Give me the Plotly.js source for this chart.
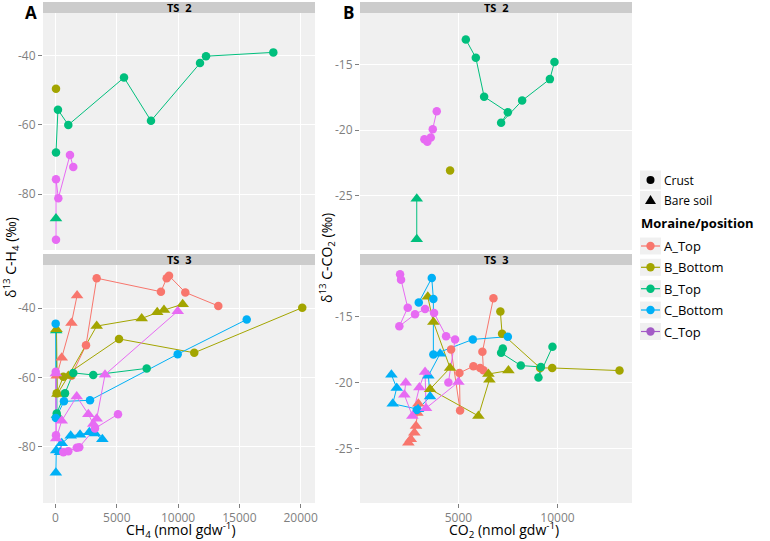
<!DOCTYPE html>
<html><head><meta charset="utf-8">
<script src="https://cdn.plot.ly/plotly-3.0.1.min.js"></script>
<style>html,body{margin:0;padding:0;background:#fff}#chart{width:770px;height:541px}</style>
</head><body><div id="chart"></div>
<script>
// ---------------- DATA ----------------
const groups = ['A_Top','B_Bottom','B_Top','C_Bottom','C_Top'];
const groupColors = ['#F8766D','#A3A500','#00BF7D','#00B0F6','#E76BF3'];
const legendKeyColors = ['#F8766D','#A3A500','#00BF7D','#00B0F6','#A35BC6'];
const soilTypes = ['Crust','Bare soil'];
const facets = ['TS 2','TS 3'];

// Panel A (CH4 vs d13C-CH4), TS 2
const aTS2_BBottom_crust_x = [40];
const aTS2_BBottom_crust_y = [-49.5];
const aTS2_BTop_crust_x = [40, 200, 1045, 5590, 7790, 11790, 12280, 17770];
const aTS2_BTop_crust_y = [-68.0, -55.6, -60.0, -46.3, -58.8, -42.1, -40.1, -39.0];
const aTS2_BTop_bare_x = [40];
const aTS2_BTop_bare_y = [-87.1];
const aTS2_CTop_crust_x = [40, 40, 230, 1180, 1450];
const aTS2_CTop_crust_y = [-93.2, -75.7, -81.2, -68.7, -72.2];

// Panel A, TS 3
const aTS3_ATop_crust_x = [1300, 2490, 3360, 8600, 9070, 9260, 10590, 13280];
const aTS3_ATop_crust_y = [-59.5, -50.7, -31.4, -35.3, -31.4, -30.7, -35.5, -39.4];
const aTS3_ATop_bare_x = [100, 506, 1300, 1760];
const aTS3_ATop_bare_y = [-59.5, -54.3, -44.3, -36.4];
const aTS3_BBottom_crust_x = [100, 640, 5180, 11320, 20130];
const aTS3_BBottom_crust_y = [-64.6, -59.8, -48.9, -52.9, -39.9];
const aTS3_BBottom_bare_x = [80, 150, 1045, 3360, 7030, 8300, 8850, 10375];
const aTS3_BBottom_bare_y = [-46.1, -64.8, -59.6, -45.2, -43.0, -41.2, -40.6, -38.9];
const aTS3_BTop_crust_x = [100, 775, 1450, 3080, 7440];
const aTS3_BTop_crust_y = [-70.4, -64.6, -58.7, -59.3, -57.4];
const aTS3_BTop_bare_x = [60, 120];
const aTS3_BTop_bare_y = [-46.5, -70.8];
const aTS3_CBottom_crust_x = [15, 30, 690, 2815, 9970, 15600];
const aTS3_CBottom_crust_y = [-44.5, -71.7, -66.9, -66.6, -53.3, -43.3];
const aTS3_CBottom_bare_x = [30, 60, 370, 506, 1240, 2000, 2760, 3220, 3820];
const aTS3_CBottom_bare_y = [-87.5, -81.1, -81.6, -79.0, -76.8, -76.5, -75.8, -76.2, -77.8];
const aTS3_CTop_crust_x = [20, 40, 640, 1045, 1730, 1940, 3220, 5100];
const aTS3_CTop_crust_y = [-58.4, -76.7, -81.6, -81.3, -80.3, -80.1, -74.7, -70.6];
const aTS3_CTop_bare_x = [30, 60, 506, 1730, 2680, 3080, 3360, 4040, 9970];
const aTS3_CTop_bare_y = [-58.9, -77.6, -72.5, -65.5, -70.6, -73.4, -71.9, -59.2, -40.9];

// Panel B (CO2 vs d13C-CO2), TS 2
const bTS2_BBottom_crust_x = [4581];
const bTS2_BBottom_crust_y = [-23.07];
const bTS2_BTop_crust_x = [5374, 5879, 6298, 7495, 7156, 8217, 9616, 9848];
const bTS2_BTop_crust_y = [-13.07, -14.47, -17.44, -18.63, -19.44, -17.74, -16.1, -14.8];
const bTS2_BTop_bare_x = [2899, 2899];
const bTS2_BTop_bare_y = [-25.23, -28.32];
const bTS2_CTop_crust_x = [3283, 3434, 3606, 3707, 3909];
const bTS2_CTop_crust_y = [-20.7, -20.89, -20.56, -19.92, -18.55];

// Panel B, TS 3
const bTS3_ATop_crust_x = [4631, 5085, 5051, 5757, 6096, 6263, 6212, 6768];
const bTS3_ATop_crust_y = [-17.47, -22.12, -19.26, -18.75, -18.88, -19.05, -17.65, -13.57];
const bTS3_ATop_bare_x = [2475, 2600, 2778, 2863, 2930, 2980];
const bTS3_ATop_bare_y = [-24.57, -24.3, -23.8, -23.3, -22.3, -21.6];
const bTS3_BBottom_crust_x = [7118, 7204, 9126, 9732, 13130];
const bTS3_BBottom_crust_y = [-14.59, -16.27, -18.88, -18.88, -19.08];
const bTS3_BBottom_bare_x = [3455, 3737, 4581, 3570, 6010, 6565, 6515, 7525];
const bTS3_BBottom_bare_y = [-13.47, -15.38, -18.88, -20.49, -22.53, -19.77, -19.34, -19.08];
const bTS3_BTop_crust_x = [7241, 7156, 8150, 9162, 9040, 9747];
const bTS3_BTop_crust_y = [-17.4, -17.73, -18.7, -18.8, -19.6, -17.27];
const bTS3_CBottom_crust_x = [3000, 3657, 3737, 3737, 5727, 7495];
const bTS3_CBottom_crust_y = [-13.9, -12.04, -13.64, -17.86, -16.71, -16.5];
const bTS3_CBottom_crust2_x = [2899];
const bTS3_CBottom_crust2_y = [-22.07];
const bTS3_CBottom_bare_x = [1620, 1889, 1687, 2964, 3570, 3485, 4076];
const bTS3_CBottom_bare_y = [-19.4, -20.4, -21.6, -22.02, -21.05, -19.47, -17.8];
const bTS3_CTop_crust_x = [2056, 2106, 2444, 2020, 2813, 3318, 3773, 4379, 4833, 4495];
const bTS3_CTop_crust_y = [-11.75, -12.17, -14.3, -15.7, -14.8, -14.4, -14.7, -16.46, -16.71, -19.98];
const bTS3_CTop_bare_x = [2343, 2273, 2677, 3030, 3318, 3368, 5000];
const bTS3_CTop_bare_y = [-20.0, -20.92, -22.53, -20.36, -19.18, -21.94, -19.95];

// Tick labels
const aXTicks = [0, 5000, 10000, 15000, 20000];
const aXTickText = ['0', '5000', '10000', '15000', '20000'];
const aYTicks = [-40, -60, -80];
const aYTickText = ['-40', '-60', '-80'];
const bXTicks = [5000, 10000];
const bXTickText = ['5000', '10000'];
const bYTicks = [-15, -20, -25];
const bYTickText = ['-15', '-20', '-25'];

// ---------------- BUILD ----------------
const W = 770, H = 541;
const PX = p => p / W, PY = p => 1 - p / H;
const colorOf = g => groupColors[groups.indexOf(g)];

const series = [
  // [xaxis, yaxis, group, soil, x, y]
  ['x','y','B_Bottom','crust',aTS2_BBottom_crust_x,aTS2_BBottom_crust_y],
  ['x','y','B_Top','crust',aTS2_BTop_crust_x,aTS2_BTop_crust_y],
  ['x','y','B_Top','bare',aTS2_BTop_bare_x,aTS2_BTop_bare_y],
  ['x','y','C_Top','crust',aTS2_CTop_crust_x,aTS2_CTop_crust_y],

  ['x2','y2','A_Top','crust',aTS3_ATop_crust_x,aTS3_ATop_crust_y],
  ['x2','y2','A_Top','bare',aTS3_ATop_bare_x,aTS3_ATop_bare_y],
  ['x2','y2','B_Top','bare',aTS3_BTop_bare_x,aTS3_BTop_bare_y],
  ['x2','y2','B_Bottom','crust',aTS3_BBottom_crust_x,aTS3_BBottom_crust_y],
  ['x2','y2','B_Bottom','bare',aTS3_BBottom_bare_x,aTS3_BBottom_bare_y],
  ['x2','y2','B_Top','crust',aTS3_BTop_crust_x,aTS3_BTop_crust_y],
  ['x2','y2','C_Bottom','crust',aTS3_CBottom_crust_x,aTS3_CBottom_crust_y],
  ['x2','y2','C_Bottom','bare',aTS3_CBottom_bare_x,aTS3_CBottom_bare_y],
  ['x2','y2','C_Top','crust',aTS3_CTop_crust_x,aTS3_CTop_crust_y],
  ['x2','y2','C_Top','bare',aTS3_CTop_bare_x,aTS3_CTop_bare_y],

  ['x3','y3','B_Bottom','crust',bTS2_BBottom_crust_x,bTS2_BBottom_crust_y],
  ['x3','y3','B_Top','crust',bTS2_BTop_crust_x,bTS2_BTop_crust_y],
  ['x3','y3','B_Top','bare',bTS2_BTop_bare_x,bTS2_BTop_bare_y],
  ['x3','y3','C_Top','crust',bTS2_CTop_crust_x,bTS2_CTop_crust_y],

  ['x4','y4','A_Top','crust',bTS3_ATop_crust_x,bTS3_ATop_crust_y],
  ['x4','y4','A_Top','bare',bTS3_ATop_bare_x,bTS3_ATop_bare_y],
  ['x4','y4','B_Bottom','crust',bTS3_BBottom_crust_x,bTS3_BBottom_crust_y],
  ['x4','y4','B_Bottom','bare',bTS3_BBottom_bare_x,bTS3_BBottom_bare_y],
  ['x4','y4','B_Top','crust',bTS3_BTop_crust_x,bTS3_BTop_crust_y],
  ['x4','y4','C_Bottom','crust',bTS3_CBottom_crust_x,bTS3_CBottom_crust_y],
  ['x4','y4','C_Bottom','crust',bTS3_CBottom_crust2_x,bTS3_CBottom_crust2_y],
  ['x4','y4','C_Bottom','bare',bTS3_CBottom_bare_x,bTS3_CBottom_bare_y],
  ['x4','y4','C_Top','crust',bTS3_CTop_crust_x,bTS3_CTop_crust_y],
  ['x4','y4','C_Top','bare',bTS3_CTop_bare_x,bTS3_CTop_bare_y],
];

const traces = [];
series.forEach(s => traces.push({type:'scatter', mode:'lines', xaxis:s[0], yaxis:s[1], x:s[4], y:s[5],
  line:{color:colorOf(s[2]), width:1}, showlegend:false, hoverinfo:'skip'}));
series.forEach(s => traces.push({type:'scatter', mode:'markers', xaxis:s[0], yaxis:s[1], x:s[4], y:s[5],
  marker:{color:colorOf(s[2]), symbol: s[3]==='crust'?'circle':'triangle-up', size: s[3]==='crust'?8.5:11, line:{width:0}},
  showlegend:false, cliponaxis:false}));

const FONT = 'Open Sans, DejaVu Sans, sans-serif';
const tickFont = {family:FONT, size:12, color:'#7F7F7F'};
const axBase = {showline:false, zeroline:false, showgrid:true, gridcolor:'#FFFFFF', gridwidth:1,
  ticks:'outside', ticklen:4, tickwidth:1, tickcolor:'#7F7F7F', tickfont:tickFont, fixedrange:true, tickmode:'array'};

const aXdom = [PX(43), PX(315)], bXdom = [PX(360), PX(632)];
const ts2Ydom = [PY(250), PY(13)], ts3Ydom = [PY(503), PY(265)];
const aYrange = [-96.2, -27.6], bYrange = [-29.15, -11.05];
const aXrange = [-1020, 21170], bXrange = [35, 13760];

const layout = {
  width:W, height:H, margin:{l:0,r:0,t:0,b:0}, paper_bgcolor:'#FFFFFF', plot_bgcolor:'#F0F0F0',
  showlegend:false, font:{family:FONT},
  xaxis: Object.assign({}, axBase, {domain:aXdom, anchor:'y', range:aXrange, tickvals:aXTicks, ticktext:aXTickText, showticklabels:false, ticks:''}),
  yaxis: Object.assign({}, axBase, {domain:ts2Ydom, anchor:'x', range:aYrange, tickvals:aYTicks, ticktext:aYTickText}),
  xaxis2: Object.assign({}, axBase, {domain:aXdom, anchor:'y2', range:aXrange, tickvals:aXTicks, ticktext:aXTickText}),
  yaxis2: Object.assign({}, axBase, {domain:ts3Ydom, anchor:'x2', range:aYrange, tickvals:aYTicks, ticktext:aYTickText}),
  xaxis3: Object.assign({}, axBase, {domain:bXdom, anchor:'y3', range:bXrange, tickvals:bXTicks, ticktext:bXTickText, showticklabels:false, ticks:''}),
  yaxis3: Object.assign({}, axBase, {domain:ts2Ydom, anchor:'x3', range:bYrange, tickvals:bYTicks, ticktext:bYTickText}),
  xaxis4: Object.assign({}, axBase, {domain:bXdom, anchor:'y4', range:bXrange, tickvals:bXTicks, ticktext:bXTickText}),
  yaxis4: Object.assign({}, axBase, {domain:ts3Ydom, anchor:'x4', range:bYrange, tickvals:bYTicks, ticktext:bYTickText}),
  shapes: [], annotations: []
};

const ann = (o) => layout.annotations.push(Object.assign({xref:'paper', yref:'paper', showarrow:false, xanchor:'center', yanchor:'middle', borderpad:0}, o));

// facet strips
[[aXdom,2,13,facets[0]],[aXdom,254,265,facets[1]],[bXdom,2,13,facets[0]],[bXdom,254,265,facets[1]]].forEach(st => {
  layout.shapes.push({type:'rect', xref:'paper', yref:'paper', x0:st[0][0], x1:st[0][1], y0:PY(st[2]), y1:PY(st[1]),
    fillcolor:'#CCCCCC', line:{width:0}, layer:'below'});
  ann({x:(st[0][0]+st[0][1])/2, y:PY((st[1]+st[2])/2),
    text:'<b>'+st[3].replace(' ','\u00A0\u00A0')+'</b>', font:{family:FONT, size:11, color:'#000'}});
});

// panel letters
ann({x:PX(30.5), y:PY(12.5), text:'<b>A</b>', font:{family:FONT, size:17, color:'#000'}});
ann({x:PX(348.5), y:PY(12.5), text:'<b>B</b>', font:{family:FONT, size:17, color:'#000'}});

// axis titles
const titleFont = {family:FONT, size:14, color:'#000'};
ann({x:PX(181), y:PY(530), text:'CH<sub>4</sub> (nmol gdw<sup>-1</sup>)', font:titleFont});
ann({x:PX(504), y:PY(530), text:'CO<sub>2</sub> (nmol gdw<sup>-1</sup>)', font:titleFont});
ann({x:PX(11), y:PY(258), textangle:-90, text:'\u03B4<sup>13</sup> C-H<sub>4</sub> (\u2030)', font:titleFont});
ann({x:PX(327), y:PY(258), textangle:-90, text:'\u03B4<sup>13</sup> C-CO<sub>2</sub> (\u2030)', font:titleFont});

// legend: shapes
const keyBox = (yc, h) => layout.shapes.push({type:'rect', xref:'paper', yref:'paper', x0:PX(640), x1:PX(661), y0:PY(yc+h/2), y1:PY(yc-h/2), fillcolor:'#F0F0F0', line:{width:0}});
const shapeY = [180, 200.5];
keyBox(shapeY[0], 19); keyBox(shapeY[1], 19);
layout.shapes.push({type:'circle', xref:'paper', yref:'paper', xsizemode:'pixel', ysizemode:'pixel', xanchor:PX(650.5), yanchor:PY(shapeY[0]),
  x0:-4, x1:4, y0:-4, y1:4, fillcolor:'#000', line:{width:0}});
layout.shapes.push({type:'path', xref:'paper', yref:'paper', xsizemode:'pixel', ysizemode:'pixel', xanchor:PX(650.5), yanchor:PY(shapeY[1]),
  path:'M-5.5,-3.5 L5.5,-3.5 L0,5.5 Z', fillcolor:'#000', line:{width:0}});
soilTypes.forEach((t,i) => ann({x:PX(663), y:PY(shapeY[i]), xanchor:'left', text:t, font:{family:FONT, size:12, color:'#000'}}));
ann({x:PX(640), y:PY(222.5), xanchor:'left', text:'<b>Moraine/position</b>', font:{family:FONT, size:13, color:'#000'}});
const entryY = [246, 267.3, 288.7, 310, 331.5];
groups.forEach((g,i) => {
  const yc = entryY[i];
  keyBox(yc, 17);
  layout.shapes.push({type:'line', xref:'paper', yref:'paper', x0:PX(641), x1:PX(660), y0:PY(yc), y1:PY(yc), line:{color:legendKeyColors[i], width:1.2}});
  layout.shapes.push({type:'circle', xref:'paper', yref:'paper', xsizemode:'pixel', ysizemode:'pixel', xanchor:PX(650.5), yanchor:PY(yc),
    x0:-4.2, x1:4.2, y0:-4.2, y1:4.2, fillcolor:legendKeyColors[i], line:{width:0}});
  ann({x:PX(663), y:PY(yc), xanchor:'left', text:g, font:{family:FONT, size:13, color:'#000'}});
});

Plotly.newPlot('chart', traces, layout, {staticPlot:true, displayModeBar:false});
</script>
</body></html>
